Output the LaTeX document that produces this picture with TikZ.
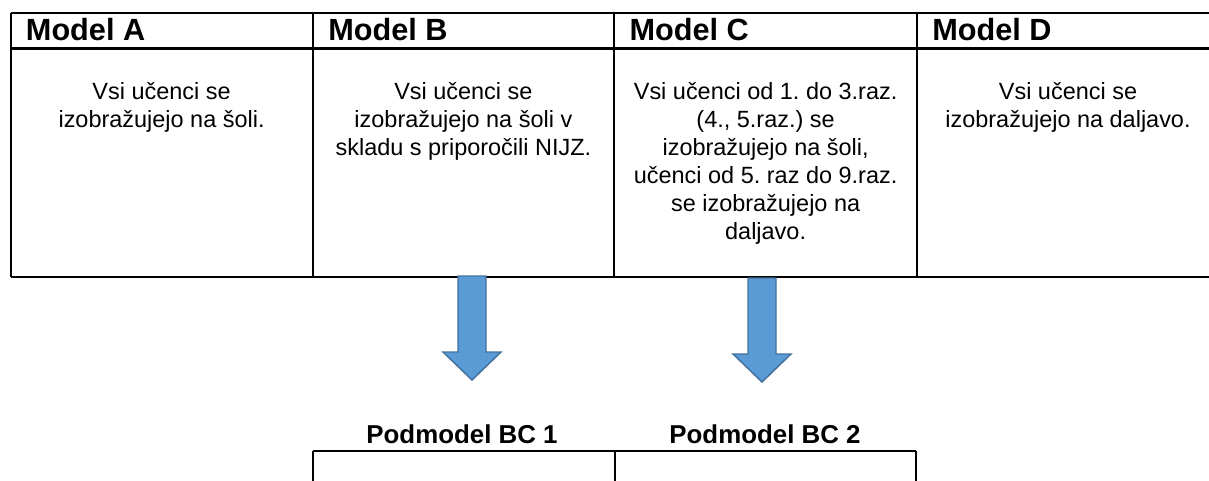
\documentclass[tikz,border=0pt]{standalone}
\usepackage{fontspec}
\setmainfont{Liberation Sans}
\usepackage{tikz}
\frenchspacing
\definecolor{arrowfill}{HTML}{5B9BD5}
\definecolor{arrowedge}{HTML}{41719C}
\newcommand{\blockarrow}[1]{
    \draw[fill=arrowfill, draw=arrowedge, line width=1.1pt] (#1) ++(-14,0) -- ++(28,0) -- ++(0,76) -- ++(15,0)
        -- ++(-29,28) -- ++(-29,-28) -- ++(15,0) -- cycle;
}
\tikzset{
    grid/.style={line width=1.6pt},
    head/.style={font=\fontsize{23}{27}\selectfont\bfseries, inner sep=0pt, anchor=base west},
    subhead/.style={font=\fontsize{19.4}{23}\selectfont\bfseries, inner sep=0pt, anchor=base},
    body/.style={font=\fontsize{17.6}{21}\selectfont, align=center, inner sep=0pt, anchor=north}
}

\begin{document}
\begin{tikzpicture}[x=0.75pt, y=-0.75pt]
        \useasboundingbox (0,0) rectangle (1209,481);
        % main table
        \draw[grid] (10.7,13) -- (1209,13);
        \draw[grid] (10.7,48.5) -- (1209,48.5);
        \draw[grid] (10.7,277) -- (1209,277);
        \foreach \x in {10.7,313,614.3,917}
            \draw[grid] (\x,13) -- (\x,277);
        \node[head] (hA) at (25.7,40.7) {Model A};
        \node[head] (hB) at (328,40.7) {Model B};
        \node[head] (hC) at (629.3,40.7) {Model C};
        \node[head] (hD) at (932,40.7) {Model D};
        \node[body] (tA) at (161.6,82.5) {Vsi učenci se\\izobražujejo na šoli.};
        \node[body] (tB) at (463.4,82.5) {Vsi učenci se\\izobražujejo na šoli v\\skladu s priporočili NIJZ.};
        \node[body] (tC) at (765.6,82.5) {Vsi učenci od 1. do 3.raz.\\(4., 5.raz.) se\\izobražujejo na šoli,\\učenci od 5. raz do 9.raz.\\se izobražujejo na\\daljavo.};
        \node[body] (tD) at (1068,82.5) {Vsi učenci se\\izobražujejo na daljavo.};
        % arrows down to the submodels
        \coordinate (arrB) at (472,276);
        \coordinate (arrC) at (762,278);
        \blockarrow{arrB}
        \blockarrow{arrC}
        \node[subhead] (sB) at (462,443) {Podmodel BC 1};
        \node[subhead] (sC) at (765,443) {Podmodel BC 2};
        % submodel table
        \draw[grid] (312.7,451) -- (916,451);
        \foreach \x in {312.7,614.7,916}
            \draw[grid] (\x,451) -- (\x,481);
\end{tikzpicture}
\end{document}
